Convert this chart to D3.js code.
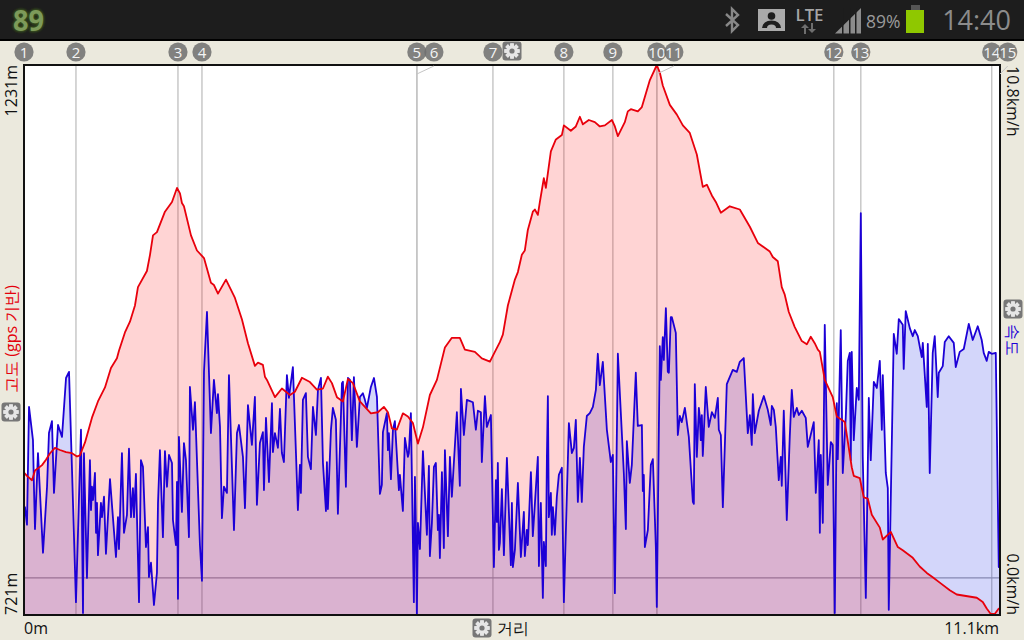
<!DOCTYPE html>
<html><head><meta charset="utf-8">
<style>html,body{margin:0;padding:0;background:#ebe9dd;overflow:hidden}svg{display:block}text{font-family:"Open Sans",sans-serif}</style>
<script src="https://cdn.jsdelivr.net/npm/d3@7"></script></head><body>
<script>
const elevationTrack=[[0,853],[.034,850],[.091,846],[.125,855],[.159,857],[.205,860],[.250,865],[.296,871],[.352,876],[.409,874],[.478,872],[.546,871],[.603,868],[.637,869],[.660,874],[.694,881],[.773,904],[.841,919],[.921,932],[.989,950],[1.057,959],[1.080,966],[1.148,983],[1.205,993],[1.262,1008],[1.296,1025],[1.398,1040],[1.433,1055],[1.467,1073],[1.512,1076],[1.603,1095],[1.683,1104],[1.740,1117],[1.774,1112],[1.796,1103],[1.819,1100],[1.899,1073],[1.967,1059],[2.047,1052],[2.126,1029],[2.160,1027],[2.206,1019],[2.297,1032],[2.399,1015],[2.479,995],[2.547,973],[2.626,952],[2.661,955],[2.717,953],[2.740,942],[2.763,939],[2.854,923],[2.933,931],[3.025,925],[3.081,928],[3.161,941],[3.252,937],[3.331,930],[3.400,931],[3.456,942],[3.502,936],[3.559,923],[3.627,919],[3.684,940],[3.741,936],[3.820,919],[3.877,914],[3.945,908],[4.025,909],[4.093,914],[4.139,909],[4.184,894],[4.241,893],[4.309,908],[4.366,905],[4.423,899],[4.480,880],[4.537,895],[4.616,925],[4.696,939],[4.787,969],[4.866,978],[4.957,978],[5.014,967],[5.128,965],[5.207,959],[5.299,956],[5.355,965],[5.412,974],[5.446,981],[5.503,1008],[5.583,1032],[5.617,1039],[5.662,1055],[5.696,1059],[5.730,1078],[5.787,1095],[5.810,1097],[5.844,1092],[5.867,1104],[5.912,1126],[5.935,1117],[5.992,1151],[6.049,1162],[6.117,1166],[6.140,1175],[6.219,1170],[6.276,1174],[6.322,1183],[6.356,1176],[6.424,1180],[6.492,1178],[6.549,1174],[6.606,1175],[6.686,1180],[6.720,1174],[6.754,1165],[6.833,1178],[6.867,1188],[6.902,1190],[6.981,1188],[7.027,1192],[7.118,1217],[7.197,1231],[7.231,1224],[7.265,1212],[7.345,1194],[7.425,1185],[7.493,1175],[7.572,1168],[7.652,1148],[7.720,1118],[7.766,1120],[7.823,1110],[7.868,1104],[7.925,1094],[8.027,1100],[8.141,1097],[8.255,1081],[8.346,1066],[8.482,1058],[8.516,1053],[8.573,1049],[8.618,1025],[8.652,1018],[8.698,1002],[8.766,988],[8.846,975],[8.903,972],[8.948,979],[8.993,973],[9.028,967],[9.051,965],[9.107,939],[9.198,923],[9.244,905],[9.335,900],[9.414,858],[9.437,850],[9.505,848],[9.551,830],[9.596,829],[9.642,814],[9.733,802],[9.767,791],[9.858,798],[9.938,784],[9.994,781],[10.108,774],[10.187,766],[10.267,760],[10.335,756],[10.415,751],[10.529,744],[10.608,740],[10.836,737],[10.904,733],[10.949,727],[10.995,722],[11.040,722],[11.086,727],[11.1,727]];
const speedTrack=[[0,1.49],[.011,1.49],[.034,1.12],[.057,3.60],[.102,2.90],[.114,1.85],[.125,1.03],[.159,2.63],[.182,1.79],[.216,.53],[.262,1.92],[.284,3.05],[.318,3.30],[.341,1.79],[.387,3.22],[.432,2.97],[.478,4.21],[.512,4.34],[.546,2.27],[.591,-.51],[.648,3.12],[.671,-.74],[.682,2.63],[.716,0],[.750,2.48],[.762,1.43],[.773,1.92],[.785,1.64],[.807,2.21],[.819,.95],[.830,1.58],[.841,.48],[.875,1.58],[.887,1.28],[.910,1.71],[.932,.51],[.978,2.08],[1.012,1.26],[1.046,.44],[1.069,1.28],[1.080,.61],[1.114,2.63],[1.137,.95],[1.171,1.33],[1.194,2.72],[1.217,1.28],[1.239,1.89],[1.251,1.28],[1.273,2.19],[1.308,-.51],[1.330,2.48],[1.353,2.34],[1.387,.65],[1.410,1.07],[1.421,.02],[1.444,.32],[1.478,-.57],[1.512,.11],[1.524,1.58],[1.546,2.69],[1.580,.86],[1.603,2.67],[1.626,1.92],[1.649,2.59],[1.683,2.42],[1.694,1.22],[1.728,.69],[1.740,2.02],[1.751,-.44],[1.762,2.97],[1.796,1.39],[1.819,2.84],[1.842,2.48],[1.876,.86],[1.887,4.02],[1.922,3.12],[1.944,3.70],[2.001,.69],[2.024,-.06],[2.047,4.34],[2.081,5.60],[2.126,3.05],[2.160,4.17],[2.194,3.47],[2.206,3.87],[2.229,3.18],[2.251,1.26],[2.274,1.92],[2.308,1.79],[2.331,4.27],[2.388,1.01],[2.422,3.05],[2.445,3.22],[2.490,2.55],[2.513,1.47],[2.547,3.64],
[2.592,2.80],[2.626,3.81],[2.649,1.54],[2.683,2.84],[2.717,3.07],[2.729,1.85],[2.752,3.37],[2.786,2.02],[2.820,3.68],[2.831,2.65],[2.854,3.05],[2.888,2.74],[2.911,3.56],[2.933,2.63],[2.956,2.44],[2.990,4.27],[3.013,3.79],[3.058,4.44],[3.093,2.63],[3.115,1.43],[3.138,2.38],[3.149,1.79],[3.172,3.75],[3.206,3.89],[3.229,2.55],[3.263,2.29],[3.286,3.60],[3.320,3.01],[3.343,3.96],[3.377,4.21],[3.400,2.42],[3.434,1.41],[3.445,2.44],[3.456,1.45],[3.491,3.12],[3.513,3.58],[3.547,3.33],[3.570,1.35],[3.616,4.10],[3.627,4.13],[3.661,1.92],[3.684,4.21],[3.707,4.17],[3.729,2.90],[3.752,4.23],[3.786,2.76],[3.820,3.81],[3.854,3.89],[3.877,3.75],[3.900,3.58],[3.945,4.02],[3.980,4.21],[4.014,3.81],[4.048,1.77],[4.070,1.96],[4.082,3.07],[4.127,3.47],[4.139,2.69],[4.150,3.05],[4.173,2.08],[4.196,3.12],[4.218,3.30],[4.264,1.85],[4.275,2.17],[4.309,1.41],[4.332,2.95],[4.366,2.55],[4.377,2.63],[4.400,3.47],[4.434,-.51],[4.446,2.13],[4.457,1.01],[4.468,-.78],[4.480,1.16],[4.503,.61],[4.537,2.67],[4.582,.91],[4.594,1.64],[4.605,2.36],[4.616,.46],[4.639,1.16],[4.662,2.34],[4.684,2.42],[4.707,1.01],[4.719,1.33],[4.730,.42],[4.753,2.23],[4.775,.63],[4.787,2.69],[4.821,.88],[4.844,2.55],[4.866,1.71],[4.923,3.49],[4.957,1.94],[4.969,3.98],[5.003,3.01],[5.037,3.75],[5.105,3.70],[5.139,3.12],[5.162,3.52],[5.196,3.49],[5.207,2.44],[5.242,3.83],[5.264,3.18],[5.310,3.43],[5.344,.23],[5.367,2.06],[5.378,1.18],[5.389,2.42],[5.401,.59],
[5.412,.74],[5.435,1.87],[5.458,.48],[5.492,2.53],[5.537,.27],[5.549,1.58],[5.560,.23],[5.583,.59],[5.617,2.00],[5.651,.44],[5.685,1.39],[5.696,.46],[5.719,1.01],[5.730,.69],[5.765,2.23],[5.787,.88],[5.844,2.55],[5.856,.25],[5.878,1.58],[5.901,-.42],[5.912,.76],[5.935,.25],[5.947,2.55],[5.958,3.83],[5.969,1.28],[5.992,1.79],[6.003,.91],[6.015,1.49],[6.037,.91],[6.060,1.71],[6.083,2.17],[6.117,2.32],[6.140,-.51],[6.197,3.26],[6.231,2.63],[6.254,2.74],[6.276,3.33],[6.299,1.60],[6.322,2.53],[6.344,1.60],[6.367,2.76],[6.401,3.41],[6.435,3.47],[6.470,3.60],[6.504,3.96],[6.526,4.72],[6.549,4.06],[6.583,4.55],[6.629,3.12],[6.674,2.44],[6.697,2.59],[6.720,-.32],[6.754,4.72],[6.822,2.21],[6.845,1.03],[6.856,2.88],[6.890,2.00],[6.913,2.38],[6.958,4.32],[6.981,3.20],[7.027,3.22],[7.038,1.83],[7.049,2.17],[7.061,.65],[7.095,1.01],[7.129,2.38],[7.152,2.50],[7.186,.65],[7.197,-.61],[7.231,4.88],[7.243,4.17],[7.265,5.07],[7.277,4.59],[7.300,5.68],[7.322,4.34],[7.334,4.32],[7.356,5.49],[7.368,5.49],[7.413,5.16],[7.436,3.01],[7.459,3.41],[7.481,3.28],[7.516,3.58],[7.561,2.97],[7.607,1.60],[7.618,1.56],[7.629,4.08],[7.652,2.55],[7.675,3.58],[7.686,3.39],[7.697,2.90],[7.709,3.43],[7.720,2.57],[7.754,4.02],[7.788,3.18],[7.823,3.49],[7.857,3.37],[7.891,3.79],[7.902,3.12],[7.925,3.01],[7.948,1.49],[7.993,4.08],[8.061,4.38],[8.107,4.34],[8.141,4.55],[8.186,4.63],[8.232,3.05],[8.255,3.43],
[8.277,2.80],[8.289,3.87],[8.311,3.05],[8.357,3.52],[8.414,3.83],[8.459,3.54],[8.493,3.22],[8.505,3.62],[8.528,3.54],[8.550,3.18],[8.584,2.06],[8.607,2.55],[8.618,1.94],[8.641,3.52],[8.675,1.22],[8.709,2.97],[8.732,3.96],[8.755,3.39],[8.789,3.58],[8.812,3.43],[8.846,3.52],[8.891,3.37],[8.914,2.76],[8.982,3.28],[9.005,1.79],[9.039,2.90],[9.051,.95],[9.062,2.59],[9.085,1.16],[9.107,5.33],[9.141,1.96],[9.176,2.86],[9.198,2.80],[9.221,-.74],[9.244,3.68],[9.255,2.50],[9.289,5.22],[9.312,2.21],[9.346,3.39],[9.369,4.57],[9.392,4.74],[9.403,2.48],[9.414,4.76],[9.437,2.90],[9.471,4.00],[9.494,3.75],[9.517,7.68],[9.539,2.55],[9.574,-.42],[9.608,3.79],[9.630,2.48],[9.665,4.13],[9.699,4.00],[9.733,4.57],[9.756,3.12],[9.767,4.27],[9.801,2.21],[9.824,1.89],[9.835,-.67],[9.892,5.14],[9.926,4.72],[9.949,5.45],[9.994,5.33],[10.005,4.40],[10.028,5.62],[10.074,5.26],[10.108,5.09],[10.131,5.22],[10.165,5.09],[10.210,4.65],[10.222,4.95],[10.267,3.60],[10.279,4.93],[10.301,2.21],[10.335,4.74],[10.358,5.09],[10.392,3.81],[10.404,4.32],[10.449,4.46],[10.472,4.97],[10.517,5.09],[10.574,4.95],[10.597,4.44],[10.642,4.76],[10.688,4.82],[10.745,5.35],[10.790,5.01],[10.847,5.30],[10.892,5.01],[10.915,4.74],[10.949,4.57],[10.972,4.76],[11.006,4.72],[11.052,4.74],[11.086,.23],[11.1,.23]];
const markerKm=[0,.591,1.751,2.024,4.468,4.468,5.333,6.140,6.697,7.197,7.197,9.210,9.517,11.006,11.1];
const badgeKm=[0,.591,1.751,2.024,4.468,4.662,5.333,6.140,6.697,7.197,7.391,9.210,9.517,11.006,11.188];
const badgeLabels=["1","2","3","4","5","6","7","8","9","10","11","12","13","14","15"];
const distanceDomain=[0,11.1], elevationDomain=[721,1231], speedDomain=[-0.78,10.8];
const distanceLabels=["0m","11.1km"], elevationLabels=["721m","1231m"], speedLabels=["0.0km/h","10.8km/h"];
const elevationTitle="고도 (gps 기반)", speedTitle="속도", distanceTitle="거리";
const clockText="14:40", batteryText="89%", appBadgeText="89";

const W=1024,H=640,L=24,R=1000,T=65,B=615;
const svg=d3.select("body").append("svg").attr("width",W).attr("height",H);
const x=d3.scaleLinear().domain(distanceDomain).range([L,R]);
const yE=d3.scaleLinear().domain(elevationDomain).range([B,T]);
const yS=d3.scaleLinear().domain(speedDomain).range([B,T]);

// status bar
svg.append("rect").attr("width",W).attr("height",40).attr("fill","#1d1d1d");
svg.append("rect").attr("y",39).attr("width",W).attr("height",2).attr("fill","#000");
const defs=svg.append("defs");
const glow=defs.append("filter").attr("id","glow").attr("x","-30%").attr("y","-30%").attr("width","160%").attr("height","160%");
glow.append("feGaussianBlur").attr("stdDeviation",1.2);
[["#3c5a1c",true],["#7d9a5a",false]].forEach(([c,g])=>{
  const t=svg.append("text").attr("x",13).attr("y",31).attr("font-size",28).attr("font-weight",700).attr("fill",c).attr("textLength",31).attr("lengthAdjust","spacingAndGlyphs").text(appBadgeText);
  if(g)t.attr("filter","url(#glow)").attr("stroke",c).attr("stroke-width",2);
});
const grey="#9a9a9a";
svg.append("path").attr("d","M726 14 L738 25 L732 31 L732 9 L738 15 L726 26").attr("fill","none").attr("stroke","#888").attr("stroke-width",2.4);
svg.append("rect").attr("x",758).attr("y",9).attr("width",27).attr("height",22).attr("fill","#aaa");
svg.append("circle").attr("cx",771.5).attr("cy",16).attr("r",3.8).attr("fill","#1d1d1d");
svg.append("path").attr("d","M762 28 Q763 20.5 771.5 20.5 Q780 20.5 781 28 L776 28 Q776 24.5 771.5 24.5 Q767 24.5 767 28 Z").attr("fill","#1d1d1d");
svg.append("text").attr("x",795.5).attr("y",20.5).attr("font-size",17).attr("font-weight",600).attr("fill","#a6a6a6").attr("textLength",28).attr("lengthAdjust","spacingAndGlyphs").text("LTE");
svg.append("path").attr("d","M804 34 v-6 h-3 l4 -4 l4 4 h-3 v6 Z M811 23 v6 h-3 l4 4 l4 -4 h-3 v-6 Z").attr("fill","#6e6e6e");
svg.append("path").attr("d","M835 33.5 L861 8 L861 33.5 Z").attr("fill","#8c8c8c");
[842,849,855].forEach(v=>svg.append("rect").attr("x",v).attr("y",8).attr("width",1.5).attr("height",26).attr("fill","#1d1d1d"));
svg.append("text").attr("x",866).attr("y",28).attr("font-size",17.5).attr("fill",grey).text(batteryText);
svg.append("rect").attr("x",911).attr("y",5).attr("width",9).attr("height",5).attr("fill","#555");
svg.append("rect").attr("x",906).attr("y",10).attr("width",18).attr("height",23).attr("fill","#8fc800");
svg.append("text").attr("x",1011).attr("y",30).attr("text-anchor","end").attr("font-size",27).attr("fill","#8c8c8c").text(clockText);

// plot background
svg.append("rect").attr("x",L).attr("y",T).attr("width",R-L).attr("height",B-T).attr("fill","#fff");

// marker lines
svg.append("g").selectAll("line").data(markerKm.slice(1,-1)).join("line")
  .attr("x1",d=>x(d)).attr("x2",d=>x(d)).attr("y1",T).attr("y2",B)
  .attr("stroke","#c4c4c4").attr("stroke-width",1.4);
svg.append("line").attr("x1",L).attr("x2",R).attr("y1",yS(0)).attr("y2",yS(0)).attr("stroke","#a2a2a8").attr("stroke-width",1.2);

// areas
const areaS=d3.area().x(d=>x(d[0])).y0(B).y1(d=>yS(d[1]));
const areaE=d3.area().x(d=>x(d[0])).y0(B).y1(d=>yE(d[1]));
svg.append("path").attr("d",areaS(speedTrack)).attr("fill","#0a1ee6").attr("fill-opacity",.18);
svg.append("path").attr("d",areaE(elevationTrack)).attr("fill","#f00").attr("fill-opacity",.17);
const clip=defs.append("clipPath").attr("id","plot");
clip.append("rect").attr("x",L).attr("y",T-2).attr("width",R-L).attr("height",B-T+2);
const lineS=d3.line().x(d=>x(d[0])).y(d=>yS(d[1]));
const lineE=d3.line().x(d=>x(d[0])).y(d=>yE(d[1]));
const lines=svg.append("g").attr("clip-path","url(#plot)").attr("fill","none").attr("stroke-linejoin","round");
lines.append("path").attr("d",lineS(speedTrack)).attr("stroke","#1c00d6").attr("stroke-width",1.8);
lines.append("path").attr("d",lineE(elevationTrack)).attr("stroke","#e8000c").attr("stroke-width",1.8);

// frame
svg.append("rect").attr("x",L).attr("y",T).attr("width",R-L).attr("height",B-T).attr("fill","none").attr("stroke","#111").attr("stroke-width",2);

// leaders + badges
const leaders=svg.append("g").attr("stroke","#c4c4c4").attr("stroke-width",1).attr("fill","none");
badgeKm.forEach((b,i)=>{ if(Math.abs(b-markerKm[i])>1e-6) leaders.append("line").attr("x1",x(markerKm[i])).attr("x2",x(b)).attr("y1",T+9).attr("y2",T+1); });
const badges=svg.append("g").selectAll("g").data(badgeKm).join("g").attr("transform",d=>`translate(${x(d)},52)`);
badges.append("circle").attr("r",9.6).attr("fill","#6e6e6e").attr("fill-opacity",.85);
badges.append("text").attr("text-anchor","middle").attr("y",5.5).attr("font-size",15).attr("fill","#f4f4f4").text((d,i)=>badgeLabels[i]);

// gears
function gear(cx,cy){
  const g=svg.append("g").attr("transform",`translate(${cx},${cy})`);
  g.append("rect").attr("x",-9.5).attr("y",-9.5).attr("width",19).attr("height",19).attr("rx",3).attr("fill","#777");
  d3.range(8).forEach(i=>g.append("rect").attr("x",-1.8).attr("y",-7.6).attr("width",3.6).attr("height",15.2).attr("fill","#e6e6e6").attr("transform",`rotate(${i*45})`));
  g.append("circle").attr("r",5.6).attr("fill","#e6e6e6");
  g.append("circle").attr("r",2.6).attr("fill","#777");
}
gear(11,412);gear(512,51);gear(482,628);gear(1013,309);

// axis labels via scales
const t=svg.append("g").attr("font-size",16).attr("fill","#111");
t.append("text").attr("x",x(distanceDomain[0])).attr("y",634).text(distanceLabels[0]);
t.append("text").attr("x",x(distanceDomain[1])-1).attr("y",634).attr("text-anchor","end").text(distanceLabels[1]);
t.append("text").attr("x",497).attr("y",634).text(distanceTitle);
const rotL=(yy,a,s,c)=>t.append("text").attr("transform",`translate(17,${yy}) rotate(-90)`).attr("text-anchor",a).attr("fill",c).text(s);
const rotR=(yy,a,s,c,xx=1007)=>t.append("text").attr("transform",`translate(${xx},${yy}) rotate(90)`).attr("text-anchor",a).attr("fill",c).text(s);
rotL(yE(elevationDomain[0]),"start",elevationLabels[0],"#111");
rotL(yE(elevationDomain[1]),"end",elevationLabels[1],"#111");
rotL(339,"middle",elevationTitle,"#e4000c");
rotR(yS(speedDomain[1])+1,"start",speedLabels[1],"#111");
rotR(B,"end",speedLabels[0],"#111");
rotR(340,"middle",speedTitle,"#1c00d6");
</script></body></html>
